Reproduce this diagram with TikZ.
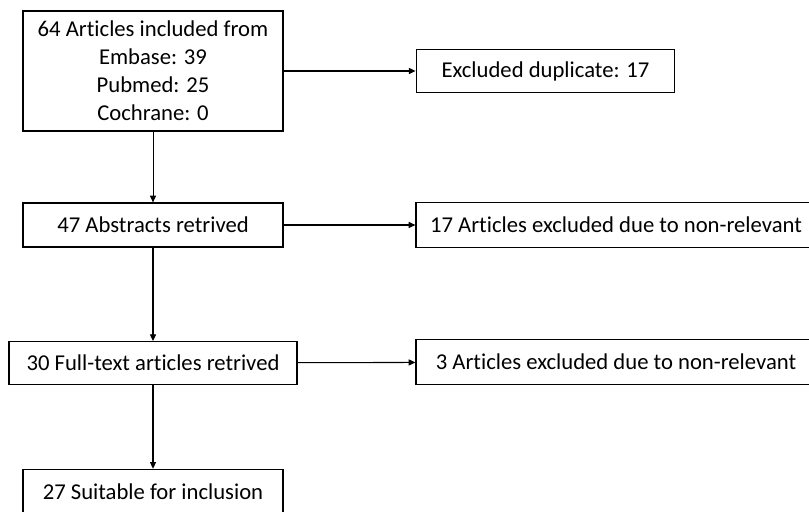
\documentclass[tikz,border=0pt]{standalone}
\usepackage{fontspec}
\setmainfont[Ligatures={NoCommon}]{Carlito}
\usetikzlibrary{positioning,arrows.meta}
\tikzset{
  flowarrow/.style={-{Triangle[length=5pt, width=4.5pt]}, line width=0.8pt},
  stagebox/.style={draw, line width=0.9pt, fill=white, minimum width=195pt, minimum height=32pt, inner sep=2pt, align=center},
  dropbox/.style={draw, line width=0.9pt, fill=white, minimum width=194pt, minimum height=32pt, inner sep=2pt, align=center},
  widebox/.style={draw, line width=0.9pt, fill=white, minimum width=300pt, minimum height=34pt, inner sep=2pt, align=center}
}

\begin{document}
\begin{tikzpicture}[x=0.75pt, y=-0.75pt, every node/.style={font=\fontsize{17}{21}\selectfont}]
  \useasboundingbox (0,0) rectangle (809,511);
  \clip (0,0) rectangle (809,511);
  \fill[white] (0,0) rectangle (809,511);
  \node[stagebox, minimum height=90pt] (sources) at (153,71) {64 Articles included from\\Embase: 39\\Pubmed: 25\\Cochrane: 0};
  \node[dropbox] (dupes) at (545.5,71) {Excluded duplicate: 17};
  \node[stagebox, minimum height=33pt] (abstracts) at (153,225) {47 Abstracts retrived};
  \node[widebox] (absout) at (616,225) {17 Articles excluded due to non-relevant};
  \node[stagebox, minimum width=216pt] (fulltext) at (153,363) {30 Full-text articles retrived};
  \node[widebox] (fullout) at (616,362) {3 Articles excluded due to non-relevant};
  \node[stagebox, minimum height=34pt] (included) at (153,492) {27 Suitable for inclusion};
  \draw[flowarrow] (sources) -- (dupes);
  \draw[flowarrow, line width=0.5pt] (sources) -- (abstracts);
  \draw[flowarrow] (abstracts) -- (absout);
  \draw[flowarrow] (abstracts) -- (fulltext);
  \draw[flowarrow] (fulltext) -- (fullout);
  \draw[flowarrow] (fulltext) -- (included);
\end{tikzpicture}
\end{document}
